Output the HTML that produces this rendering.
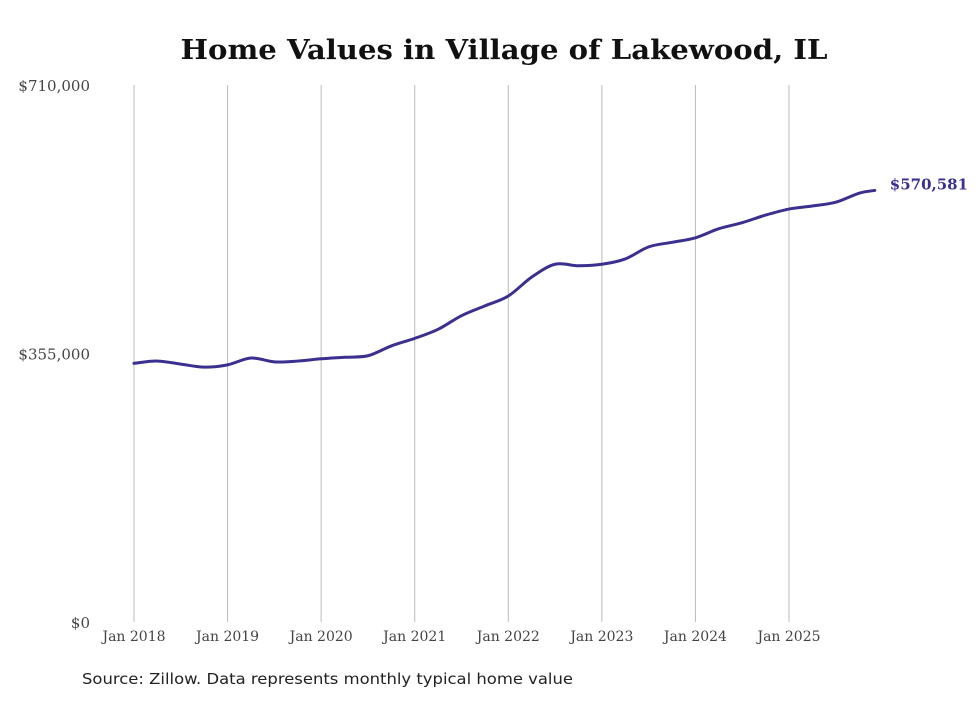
<!DOCTYPE html>
<html><head><meta charset="utf-8"><style>
body{margin:0;background:#fff;width:980px;height:699px;overflow:hidden}
svg text{font-family:"DejaVu Serif","Liberation Serif",serif}
</style></head><body>
<svg id="chart" width="980" height="699">
<text x="504" y="59" text-anchor="middle" font-size="27" font-weight="bold" fill="#111" textLength="647" lengthAdjust="spacingAndGlyphs">Home Values in Village of Lakewood, IL</text>
<g id="grid"></g><g id="yticks"></g><g id="xticks"></g><g id="series"></g>
<text x="82" y="684" font-size="15" fill="#222" style="font-family:'DejaVu Sans','Liberation Sans',sans-serif" textLength="491" lengthAdjust="spacingAndGlyphs">Source: Zillow. Data represents monthly typical home value</text>
</svg>
<script>
const months=[0,3,6,9,12,15,18,21,24,27,30,33,36,39,42,45,48,51,54,57,60,63,66,69,72,75,78,81,84,87,90,93,95];
const values=[342000,345000,341000,337000,340000,349000,344000,345000,348000,350000,352000,365000,375000,387000,405000,418000,431000,456000,473000,471000,473000,480000,496000,502000,508000,520000,528000,538000,546000,550000,555000,567000,570581];
const yTickValues=[0,355000,710000];
const yTickLabels=["$0","$355,000","$710,000"];
const xTickMonths=[0,12,24,36,48,60,72,84];
const xTickLabels=["Jan 2018","Jan 2019","Jan 2020","Jan 2021","Jan 2022","Jan 2023","Jan 2024","Jan 2025"];
const endLabel="$570,581";
const NS="http://www.w3.org/2000/svg";
const x=m=>134+m*(655/84);
const y=v=>622-v/710000*537;
function mk(t,a,p){const e=document.createElementNS(NS,t);for(const k in a)e.setAttribute(k,a[k]);p.appendChild(e);return e;}
const grid=document.getElementById('grid'),yt=document.getElementById('yticks'),xt=document.getElementById('xticks'),se=document.getElementById('series');
xTickMonths.forEach((m,i)=>{
 const l=mk('line',{x1:x(m),x2:x(m),y1:85,y2:622,stroke:'#bbb','stroke-width':1},grid);
 
 
 const t=mk('text',{x:x(m),y:641,'text-anchor':'middle','font-size':14,fill:'#444'},xt);
 t.textContent=xTickLabels[i];
 
 
});
yTickValues.forEach((v,i)=>{
 const t=mk('text',{x:90,y:y(v)+6,'text-anchor':'end','font-size':15,fill:'#444'},yt);
 t.textContent=yTickLabels[i];
 
 
});
const pts=months.map((m,i)=>[x(m),y(values[i])]);
let d='M'+pts[0][0]+','+pts[0][1];
for(let i=0;i<pts.length-1;i++){
 const p0=pts[Math.max(0,i-1)],p1=pts[i],p2=pts[i+1],p3=pts[Math.min(pts.length-1,i+2)];
 const c1=[p1[0]+(p2[0]-p0[0])/6,p1[1]+(p2[1]-p0[1])/6],c2=[p2[0]-(p3[0]-p1[0])/6,p2[1]-(p3[1]-p1[1])/6];
 d+=` C${c1[0]},${c1[1]} ${c2[0]},${c2[1]} ${p2[0]},${p2[1]}`;
}
const path=mk('path',{d:d,fill:'none',stroke:'#3b2f8f','stroke-width':3,'stroke-linejoin':'round','stroke-linecap':'round'},se);


const last=pts[pts.length-1];
const el=mk('text',{x:last[0]+15,y:last[1]-1,'font-size':15,'font-weight':'bold',fill:'#3b2f8f'},se);
el.textContent=endLabel;


</script>
</body></html>
